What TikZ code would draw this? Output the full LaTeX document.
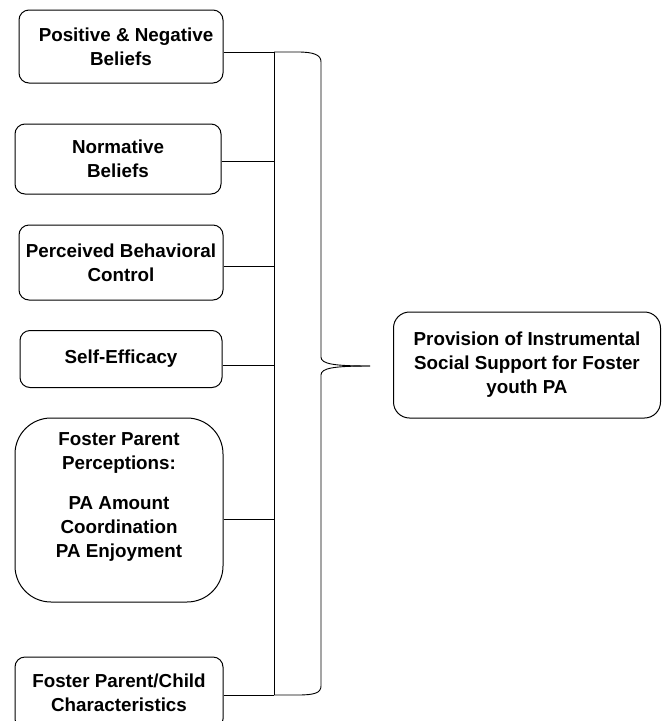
\documentclass[tikz,border=0pt]{standalone}
\usepackage{fontspec}
\setmainfont{Liberation Sans}
\usepackage{tikz}
\usetikzlibrary{positioning}
\tikzset{
  factor/.style={draw, line width=1pt, rounded corners=10pt, align=center,
    font=\fontsize{18.8}{24}\selectfont\bfseries, inner sep=0pt},
  link/.style={line width=0.9pt}
}

\begin{document}
\begin{tikzpicture}[x=1pt, y=-1pt]
        \useasboundingbox (0,0) rectangle (668,721);
        % Nodes
        \node[factor, minimum width=204pt, minimum height=73pt] (posneg) at (121,46.5) {\hspace{10pt}Positive \& Negative\\Beliefs};
        \node[factor, minimum width=206pt, minimum height=70pt] (norm) at (118,159) {Normative\\Beliefs};
        \node[factor, minimum width=204pt, minimum height=75pt] (pbc) at (121,262.5) {Perceived Behavioral\\Control};
        \node[factor, minimum width=202pt, minimum height=57pt] (selfeff) at (121,359) {Self-Efficacy};
        \node[factor, rounded corners=36pt, minimum width=208pt, minimum height=184pt] (fpp) at (119,510)
          {Foster Parent\\Perceptions:\\[16pt]PA Amount\\Coordination\\PA Enjoyment\\[6pt]};
        \node[factor, minimum width=208pt, minimum height=72pt] (fpc) at (119,693) {Foster Parent/Child\\Characteristics};
        \node[factor, rounded corners=16pt, minimum width=267pt, minimum height=106pt] (support) at (527,365)
          {Provision of Instrumental\\Social Support for Foster\\youth PA};

        % Bus points
        \coordinate (j1) at (274,52);
        \coordinate (j2) at (274,161);
        \coordinate (j3) at (274,266);
        \coordinate (j4) at (274,365);
        \coordinate (j5) at (274,519);
        \coordinate (j6) at (274,695);
        \coordinate (tip) at (370,366);

        % Links
        \draw[link] (posneg.east |- j1) -- (j1);
        \draw[link] (norm.east |- j2) -- (j2);
        \draw[link] (pbc.east |- j3) -- (j3);
        \draw[link] (selfeff.east |- j4) -- (j4);
        \draw[link] (fpp.east |- j5) -- (j5);
        \draw[link] (fpc.east |- j6) -- (j6);
        \draw[link] (j1) -- (j6);

        % Brace
        \draw[link] (j1) -- (298,52) .. controls (314,52) and (321,55) .. (321,62)
          -- (321,357) .. controls (321,364) and (334,366) .. (tip);
        \draw[link] (tip) .. controls (334,366) and (321,368) .. (321,375)
          -- (321,686) .. controls (321,693) and (314,695) .. (298,695) -- (j6);
\end{tikzpicture}
\end{document}
